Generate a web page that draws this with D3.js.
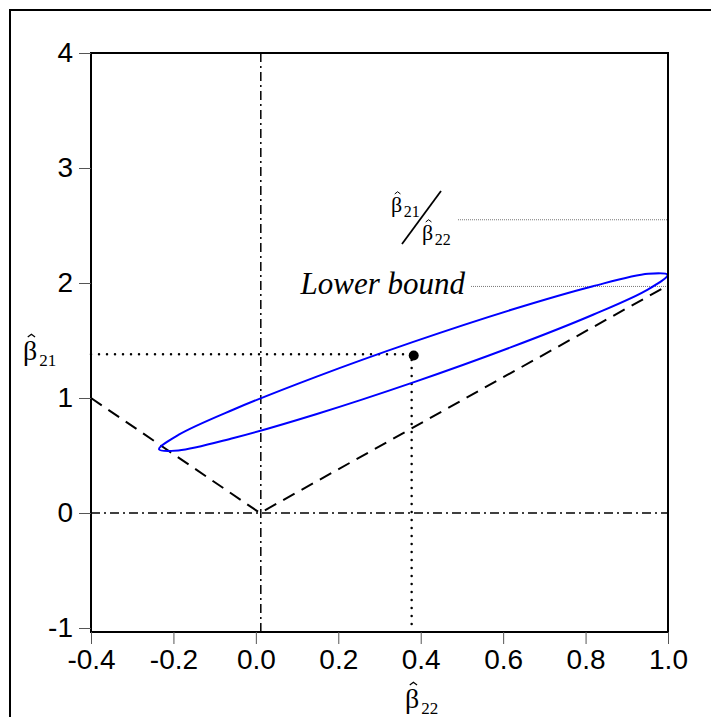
<!DOCTYPE html>
<html><head><meta charset="utf-8">
<script src="https://cdn.jsdelivr.net/npm/d3@7"></script>
<style>body{margin:0;background:#fff}svg{display:block}</style>
</head><body>
<script>
// ---- data ----
const xTicks = [-0.4, -0.2, 0.0, 0.2, 0.4, 0.6, 0.8, 1.0];
const yTicks = [-1, 0, 1, 2, 3, 4];
// confidence ellipse outline (beta22, beta21)
const ellipseX = [0.999, 0.952, 0.818, 0.618, 0.382, 0.146, -0.054, -0.188, -0.235, -0.188, -0.054, 0.146, 0.382, 0.618, 0.818, 0.952];
const ellipseY = [2.070, 2.080, 1.972, 1.765, 1.488, 1.184, 0.900, 0.679, 0.554, 0.544, 0.652, 0.859, 1.136, 1.440, 1.724, 1.945];
// dashed bound lines (V shape)
const boundX = [-0.4, 0.01, 1.0];
const boundY = [1.0, 0.0, 1.98];
// point estimate and its guide lines
const pointX = [0.383];
const pointY = [1.37];
const guideH = [-0.4, 0.37, 1.38];   // x0, x1, y
const guideV = [0.378, 1.33, -1.0];  // x, y0, y1
const zeroLineX = 0.012;
const lowerBoundY = 1.97;
const ratioY = 2.55;

const W = 711, H = 717;
const svg = d3.select("body").append("svg").attr("width", W).attr("height", H);

const x = d3.scaleLinear().domain([-0.4, 1.0]).range([91, 668]);
const y = d3.scaleLinear().domain([-1, 4]).range([628, 53]);
const plotBottom = 632;

// outer frame
svg.append("rect").attr("x", 10).attr("y", 10).attr("width", W + 20).attr("height", H + 20)
  .attr("fill", "none").attr("stroke", "#000").attr("stroke-width", 2);

// zero lines (dash-dot)
svg.append("line").attr("x1", x(-0.4)).attr("x2", x(1.0)).attr("y1", y(0)).attr("y2", y(0))
  .attr("stroke", "#000").attr("stroke-width", 1.5).attr("stroke-dasharray", "9,4,2,4");
svg.append("line").attr("x1", x(zeroLineX)).attr("x2", x(zeroLineX)).attr("y1", y(4)).attr("y2", plotBottom)
  .attr("stroke", "#000").attr("stroke-width", 1.5).attr("stroke-dasharray", "9,4,2,4");

// dashed V
svg.append("path").datum(boundX.map((d, i) => [d, boundY[i]]))
  .attr("d", d3.line().x(d => x(d[0])).y(d => y(d[1])))
  .attr("fill", "none").attr("stroke", "#000").attr("stroke-width", 2).attr("stroke-dasharray", "13,8");

// dotted guides
svg.append("line").attr("x1", x(guideH[0])).attr("x2", x(guideH[1])).attr("y1", y(guideH[2])).attr("y2", y(guideH[2]))
  .attr("stroke", "#000").attr("stroke-width", 2.5).attr("stroke-dasharray", "0,8").attr("stroke-linecap", "round");
svg.append("line").attr("x1", x(guideV[0])).attr("x2", x(guideV[0])).attr("y1", y(guideV[1])).attr("y2", y(guideV[2]))
  .attr("stroke", "#000").attr("stroke-width", 2.5).attr("stroke-dasharray", "0,8").attr("stroke-linecap", "round");

// thin gray guide lines for the annotations
svg.append("line").attr("x1", 471).attr("x2", x(1.0)).attr("y1", y(lowerBoundY)).attr("y2", y(lowerBoundY))
  .attr("stroke", "#777").attr("stroke-width", 1).attr("stroke-dasharray", "1,1");
svg.append("line").attr("x1", 458).attr("x2", x(1.0)).attr("y1", y(ratioY)).attr("y2", y(ratioY))
  .attr("stroke", "#777").attr("stroke-width", 1).attr("stroke-dasharray", "1,1");

// ellipse
svg.append("path").datum(ellipseX.map((d, i) => [d, ellipseY[i]]))
  .attr("d", d3.line().x(d => x(d[0])).y(d => y(d[1])).curve(d3.curveCatmullRomClosed.alpha(0.5)))
  .attr("fill", "none").attr("stroke", "#0000ff").attr("stroke-width", 2);

// point
svg.selectAll("circle.pt").data(pointX).enter().append("circle")
  .attr("cx", d => x(d)).attr("cy", (d, i) => y(pointY[i])).attr("r", 5).attr("fill", "#000");

// plot frame
svg.append("rect").attr("x", x(-0.4)).attr("y", y(4)).attr("width", x(1.0) - x(-0.4)).attr("height", plotBottom - y(4))
  .attr("fill", "none").attr("stroke", "#000").attr("stroke-width", 2);

// axes (hyphen minus as in the reference)
const hy = f => d => f(d).replace("\u2212", "-");
const yAxis = d3.axisLeft(y).tickValues(yTicks).tickSize(12).tickPadding(6).tickFormat(hy(d3.format("d")));
const gy = svg.append("g").attr("transform", `translate(${x(-0.4)},0)`).call(yAxis);
gy.select(".domain").remove();
gy.selectAll("line").attr("stroke", "#555");
gy.selectAll("text").attr("font-family", "Liberation Sans, Arial, sans-serif").attr("font-size", 28).attr("fill", "#000");

const xAxis = d3.axisBottom(x).tickValues(xTicks).tickSize(12).tickPadding(5).tickFormat(hy(d3.format(".1f")));
const gx = svg.append("g").attr("transform", `translate(0,${plotBottom})`).call(xAxis);
gx.select(".domain").remove();
gx.selectAll("line").attr("stroke", "#555");
gx.selectAll("text").attr("font-family", "Liberation Sans, Arial, sans-serif").attr("font-size", 28).attr("fill", "#000");

// beta-hat helper: hat is drawn as a small chevron path
function betaHat(px, py, sub, size, subSize) {
  const g = svg.append("g").attr("font-family", "Liberation Serif, Times New Roman, serif");
  g.append("text").attr("x", px).attr("y", py).attr("font-size", size).text("β");
  const cx = px + size * 0.30, top = py - size * 0.92, w = size * 0.13, h = size * 0.1;
  g.append("path").attr("d", `M${cx - w},${top + h}L${cx},${top}L${cx + w},${top + h}`)
    .attr("fill", "none").attr("stroke", "#000").attr("stroke-width", Math.max(1, size / 22));
  g.append("text").attr("x", px + size * 0.58).attr("y", py + size * 0.22).attr("font-size", subSize).text(sub);
}

// axis titles
betaHat(23, 360, "21", 28, 17);
betaHat(405, 708, "22", 28, 17);

// ratio annotation
betaHat(391, 212, "21", 22, 16);
betaHat(422, 240, "22", 22, 16);
svg.append("line").attr("x1", 402).attr("y1", 244).attr("x2", 441).attr("y2", 191)
  .attr("stroke", "#000").attr("stroke-width", 1.8);

// lower bound label
svg.append("text").attr("x", 465).attr("y", 294).attr("text-anchor", "end")
  .attr("font-family", "Liberation Serif, Times New Roman, serif").attr("font-style", "italic")
  .attr("font-size", 31).text("Lower bound");
</script>
</body></html>
